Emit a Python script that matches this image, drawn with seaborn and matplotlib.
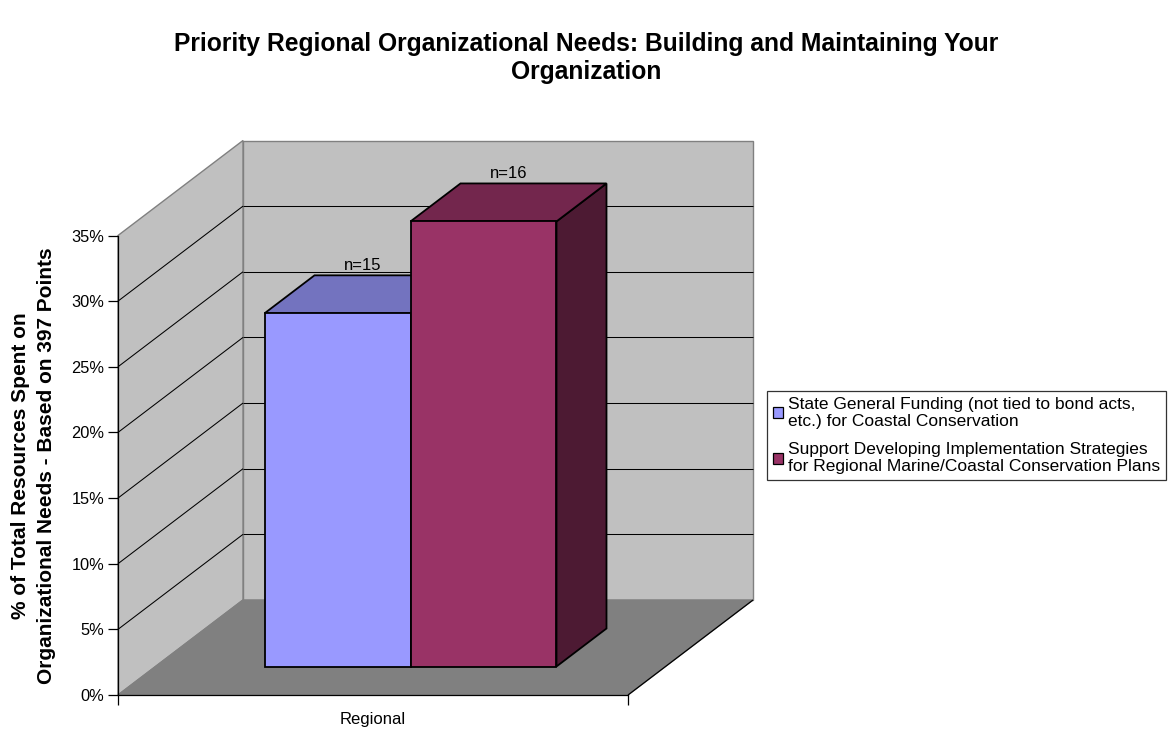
import numpy as np
import pandas as pd
import matplotlib
matplotlib.use("Agg")
import matplotlib.pyplot as plt
import seaborn as sns
from matplotlib.patches import Polygon, Patch
from matplotlib.transforms import Affine2D, IdentityTransform
from matplotlib.ticker import PercentFormatter, FixedLocator

# ---- data -------------------------------------------------------------
categories = ["Regional"]
series = [
    "State General Funding (not tied to bond acts,\netc.) for Coastal Conservation",
    "Support Developing Implementation Strategies\nfor Regional Marine/Coastal Conservation Plans",
]
values = [26.9, 33.9]          # % of total resources
counts = ["n=15", "n=16"]
yticks = [0, 5, 10, 15, 20, 25, 30, 35]

front_colors = ["#9999FF", "#993366"]
top_colors = ["#7373BF", "#73264D"]
side_colors = ["#4D4D80", "#4D1A33"]
WALL = "#C0C0C0"
FLOOR = "#808080"
EDGE = "#808080"

# ---- figure -------------------------------------------------------------
sns.set_theme(style="white")
plt.rcParams["font.family"] = ["Liberation Sans", "DejaVu Sans"]
plt.rcParams.update({"text.color": "black", "axes.labelcolor": "black",
                     "xtick.color": "black", "ytick.color": "black"})

W, H = 1175, 730
fig = plt.figure(figsize=(W / 100, H / 100), dpi=100)
fig.patch.set_facecolor("white")
# front plane of the 3-D box (the value axis lives here)
ax = fig.add_axes([118 / W, 35 / H, 510 / W, 459.5 / H])
ax.patch.set_visible(False)

df = pd.DataFrame({"region": categories * len(series), "series": series, "value": values})
sns.barplot(data=df, x="region", y="value", hue="series", hue_order=series,
            palette=front_colors, saturation=1, width=0.5725, gap=0,
            edgecolor="black", linewidth=1.3, legend=False, ax=ax)
ax.set_xlim(-0.5, 0.5)
ax.set_ylim(0, 35)

# oblique depth vector (display pixels) from front plane to back wall
DEPTH = np.array([125.0, 95.0])
D_FRONT, D_BACK = 0.3, 0.7


def to_px(x, y, d):
    return ax.transData.transform((x, y)) + d * DEPTH


def face(pts, **kw):
    poly = Polygon([to_px(*p) for p in pts], closed=True, transform=IdentityTransform(),
                   clip_on=False, **kw)
    ax.add_patch(poly)
    return poly


def edge(p0, p1, **kw):
    a, b = to_px(*p0), to_px(*p1)
    ax.plot([a[0], b[0]], [a[1], b[1]], transform=IdentityTransform(), clip_on=False,
            solid_capstyle="butt", **kw)


x0, x1 = -0.5, 0.5
y0, y1 = 0, 35
# walls and floor
face([(x0, y0, 1), (x1, y0, 1), (x1, y1, 1), (x0, y1, 1)], facecolor=WALL,
     edgecolor=EDGE, lw=1.0, zorder=0.1)
face([(x0, y0, 0), (x0, y1, 0), (x0, y1, 1), (x0, y0, 1)], facecolor=WALL,
     edgecolor=EDGE, lw=1.0, zorder=0.1)
face([(x0, y0, 0), (x1, y0, 0), (x1, y0, 1), (x0, y0, 1)], facecolor=FLOOR,
     edgecolor=EDGE, lw=1.0, zorder=0.2)
edge((x1, y0, 0), (x1, y0, 1), color="black", lw=0.9, zorder=0.3)

# gridlines on the back and side walls
for yv in yticks[1:-1]:
    edge((x0, yv, 1), (x1, yv, 1), color="black", lw=0.75, zorder=0.4)
    edge((x0, yv, 0), (x0, yv, 1), color="black", lw=0.75, zorder=0.4)

# give the seaborn bars depth: push the front faces back, add top and side faces
bars = list(ax.patches[:len(values)])
for i, rect in enumerate(bars):
    bx, bw, bh = rect.get_x(), rect.get_width(), rect.get_height()
    rect.set_transform(ax.transData + Affine2D().translate(*(D_FRONT * DEPTH)))
    rect.set_clip_on(False)
    rect.set_zorder(2.02 + i * 0.1)
    face([(bx + bw, 0, D_FRONT), (bx + bw, bh, D_FRONT), (bx + bw, bh, D_BACK),
          (bx + bw, 0, D_BACK)], facecolor=side_colors[i], edgecolor="black",
         lw=1.3, joinstyle="miter", zorder=2.0 + i * 0.1)
    face([(bx, bh, D_FRONT), (bx + bw, bh, D_FRONT), (bx + bw, bh, D_BACK),
          (bx, bh, D_BACK)], facecolor=top_colors[i], edgecolor="black",
         lw=1.3, joinstyle="miter", zorder=2.0 + i * 0.1)
    ax.annotate(counts[i], xy=(bx + bw / 2, bh), xytext=(63, 76.5),
                textcoords="offset pixels", ha="center", va="center",
                fontsize=12, color="black", zorder=3)

# axes styling
for s in ("top", "right"):
    ax.spines[s].set_visible(False)
for s in ("left", "bottom"):
    ax.spines[s].set_color("black")
    ax.spines[s].set_linewidth(0.9)
    ax.spines[s].set_zorder(1.5)
ax.yaxis.set_major_locator(FixedLocator(yticks))
ax.yaxis.set_major_formatter(PercentFormatter(decimals=0))
ax.tick_params(axis="y", which="major", left=True, length=7, width=0.9, pad=3,
               color="black", labelsize=11.8, labelcolor="black")
ax.set_xticks([0])
ax.set_xticklabels(categories)
ax.set_xticks([-0.5, 0.5], minor=True)
ax.tick_params(axis="x", which="major", length=0, pad=12.5, labelsize=12, labelcolor="black")
ax.tick_params(axis="x", which="minor", bottom=True, length=7.2, width=0.9, color="black")
ax.set_xlabel("")
ax.set_ylabel("")

# legend
handles = [Patch(facecolor=c, edgecolor="black", linewidth=0.9) for c in front_colors]
leg = fig.legend(handles, series, loc="upper left",
                 bbox_to_anchor=(767 / W, 1 - 391 / H), bbox_transform=fig.transFigure,
                 frameon=True, fancybox=False, fontsize=12.5, handlelength=0.6,
                 handleheight=0.6, handletextpad=0.3, borderpad=0.32,
                 labelspacing=0.75, borderaxespad=0)
leg.get_frame().set_edgecolor("black")
leg.get_frame().set_linewidth(0.9)

# titles
fig.text(586 / W, 1 - 58 / H,
         "Priority Regional Organizational Needs: Building and Maintaining Your\nOrganization",
         ha="center", va="center", fontsize=17.7, fontweight="bold", linespacing=1.23)
fig.text(33.5 / W, 1 - 466 / H,
         "% of Total Resources Spent on\nOrganizational Needs - Based on 397 Points",
         ha="center", va="center", rotation=90, fontsize=15, fontweight="bold",
         linespacing=1.42)

fig.savefig("out.png", dpi=100, facecolor="white")
